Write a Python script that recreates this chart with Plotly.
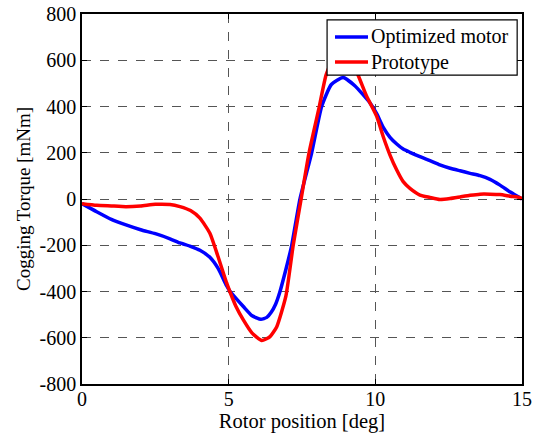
import plotly.graph_objects as go

# Optimized motor (blue)
opt_x = [0, 0.5, 1, 1.5, 2, 2.5, 3, 3.34, 3.7, 4.02, 4.36, 4.64, 4.93, 5.05, 5.25, 5.5, 5.8, 6.1, 6.3, 6.45,
         6.6, 6.75, 6.95, 7.15, 7.43, 7.83, 8.17, 8.5, 8.9, 9.3, 9.82, 10.05, 10.27, 10.5, 10.73, 10.95,
         11.18, 11.52, 11.86, 12.2, 12.55, 12.89, 13.23, 13.57, 13.91, 14.25, 14.6, 14.93, 15]
opt_y = [-20, -55, -88, -112, -133, -150, -172, -190, -205, -222, -252, -300, -375, -400, -430, -465, -505, -520, -512, -490,
         -455, -400, -305, -200, 0, 200, 400, 495, 525, 490, 415, 368, 310, 267, 238, 216,
         202, 183, 166, 148, 133, 122, 111, 101, 85, 60, 30, 5, 0]

# Prototype (red)
pro_x = [0, 0.5, 1, 1.5, 2, 2.5, 3, 3.34, 3.7, 4.02, 4.36, 4.64, 4.93, 5.04, 5.25, 5.5, 5.8, 6.13, 6.41, 6.64,
         6.95, 7.2, 7.47, 7.74, 8.09, 8.32, 8.6, 8.87, 9.1, 9.41, 9.7, 9.82, 10.05, 10.27, 10.5, 10.73,
         10.95, 11.18, 11.52, 11.86, 12.2, 12.55, 12.89, 13.23, 13.57, 13.91, 14.25, 14.6, 14.93, 15]
pro_y = [-20, -27, -30, -33, -30, -23, -24, -33, -50, -83, -148, -250, -363, -400, -465, -523, -580, -612, -595, -552,
         -420, -200, 0, 200, 400, 536, 620, 650, 620, 536, 445, 415, 356, 269, 190, 125,
         75, 46, 17, 7, -2, 2, 9, 16, 21, 21, 19, 12, 6, 0]

series_names = ["Optimized motor", "Prototype"]
series_colors = ["#0000FF", "#FF0000"]
x_ticks = [0, 5, 10, 15]
y_ticks = [-800, -600, -400, -200, 0, 200, 400, 600, 800]
y_tick_labels = ["-800", "-600", "-400", "-200", "0", "200", "400", "600", "800"]

FONT = "Liberation Serif, Times New Roman, serif"

fig = go.Figure()
for xs, ys, nm, col in [(opt_x, opt_y, series_names[0], series_colors[0]),
                        (pro_x, pro_y, series_names[1], series_colors[1])]:
    fig.add_trace(go.Scatter(x=xs, y=ys, mode="lines", name=nm, showlegend=False,
                             line=dict(color=col, width=3.5, shape="spline", smoothing=0.5)))

axis_common = dict(
    showline=True, linecolor="black", linewidth=1.5, mirror="ticks",
    ticks="inside", ticklen=5, tickcolor="black",
    showgrid=True, gridcolor="#555555", griddash="dash", gridwidth=1,
    zeroline=False, tickfont=dict(family=FONT, size=20, color="black"),
    automargin=False,
)

# Legend box (drawn manually to match compact MATLAB legend)
box_x0, box_x1, box_y0, box_y1 = 0.557, 0.989, 0.835, 0.984
row_y = [0.938, 0.870]
shapes = [dict(type="rect", xref="paper", yref="paper", x0=box_x0, x1=box_x1, y0=box_y0, y1=box_y1,
               fillcolor="white", line=dict(color="black", width=1.2), layer="above")]
annotations = []
for i, (nm, col) in enumerate(zip(series_names, series_colors)):
    shapes.append(dict(type="line", xref="paper", yref="paper", x0=0.575, x1=0.65, y0=row_y[i], y1=row_y[i],
                       line=dict(color=col, width=3.5), layer="above"))
    annotations.append(dict(xref="paper", yref="paper", x=0.653, y=row_y[i], text=nm, showarrow=False,
                            xanchor="left", yanchor="middle", font=dict(family=FONT, size=20, color="black")))

fig.update_layout(
    width=540, height=436,
    margin=dict(l=82, r=18, t=14, b=52, autoexpand=False),
    paper_bgcolor="white", plot_bgcolor="white",
    font=dict(family=FONT, size=18, color="black"),
    xaxis=dict(range=[0, 15], tickvals=x_ticks, ticklabelstandoff=-4,
               title=dict(text="Rotor position [deg]", font=dict(family=FONT, size=20.5), standoff=0),
               **axis_common),
    yaxis=dict(range=[-800, 800], tickvals=y_ticks, ticktext=y_tick_labels, ticklabelstandoff=0,
               title=dict(text="Cogging Torque [mNm]", font=dict(family=FONT, size=19), standoff=4),
               **axis_common),
    shapes=shapes,
    annotations=annotations,
    showlegend=False,
)

fig.write_html("out.html", config={"displayModeBar": False},
               post_script="document.body.style.margin='0';document.body.style.padding='0';document.body.style.overflow='hidden';")
